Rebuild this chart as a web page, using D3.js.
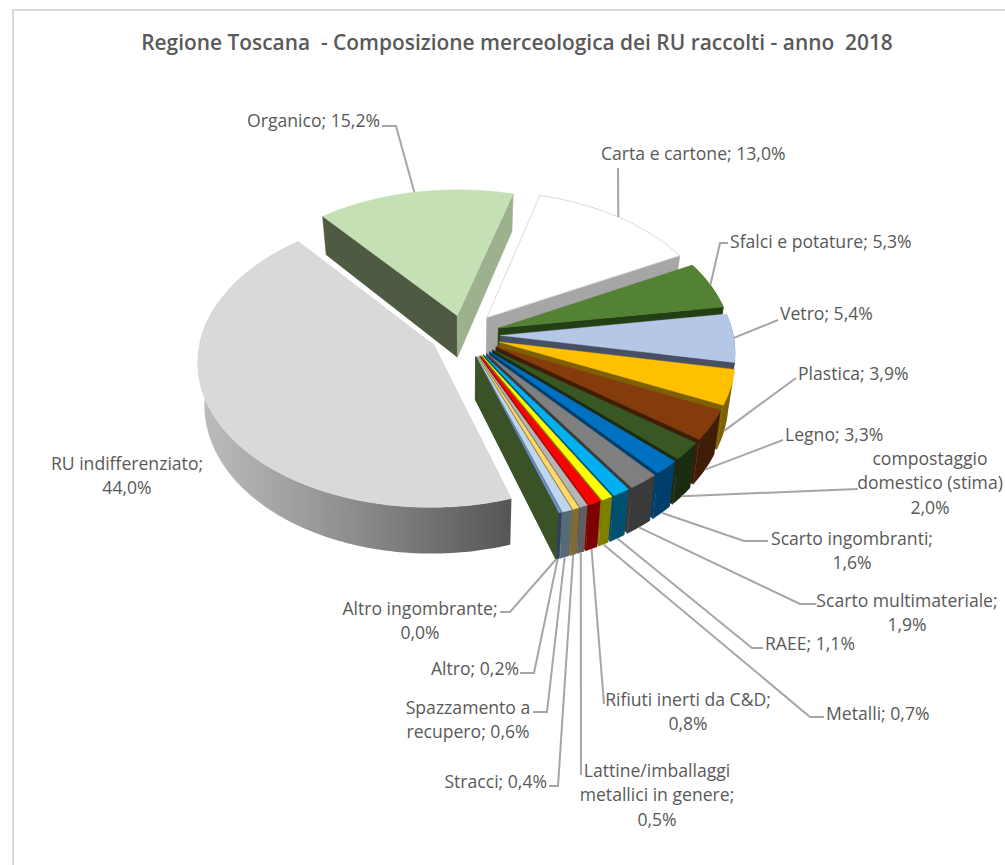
<!DOCTYPE html>
<html><head><meta charset="utf-8">
<style>html,body{margin:0;background:#fff}svg{display:block}</style>
<script src="https://cdn.jsdelivr.net/npm/d3@7"></script></head>
<body><svg id="c" width="1005" height="865"></svg>
<script>
const title = "Regione Toscana  - Composizione merceologica dei RU raccolti - anno  2018";
const categories = ["RU indifferenziato","Organico","Carta e cartone","Sfalci e potature","Vetro","Plastica","Legno","compostaggio domestico (stima)","Scarto ingombranti","Scarto multimateriale","RAEE","Metalli","Rifiuti inerti da C&D","Lattine/imballaggi metallici in genere","Stracci","Spazzamento a recupero","Altro","Altro ingombrante"];
const values = [44.0,15.2,13.0,5.3,5.4,3.9,3.3,2.0,1.6,1.9,1.1,0.7,0.8,0.5,0.4,0.6,0.2,0.0];
const topColors = ["#d9d9d9","#c5e0b4","#ffffff","#548235","#b4c7e7","#ffc000","#843c0c","#385723","#0070c0","#7f7f7f","#00b0f0","#ffff00","#ff0000","#b5b5b5","#ffd966","#bdd7ee","#6f8fc9","#375623"];
const wallColors = ["#8a8a8a","#9db18e","#a6a6a6","#233f14","#474f65","#7f6000","#3f1d06","#1a2b11","#003e6b","#3a3a3a","#00506f","#7f7f00","#7f0000","#5f5f5f","#7f6b33","#566a78","#2f3f63","#3b5226"];
const explode = [.145,.14,.158,.156,.156,.158,.158,.158,.158,.158,.158,.158,.158,.158,.158,.158,.158,.158];

const layout = [
 {lines:["RU indifferenziato;","{v}"],x:127,y:463,a:"middle"},
 {lines:["Organico; {v}"],x:380,y:120,a:"end",pts:[[382,126],[396,126]],z:0},
 {lines:["Carta e cartone; {v}"],x:601,y:153,a:"start",pts:[[618,168]],z:0},
 {lines:["Sfalci e potature; {v}"],x:730,y:241,a:"start",pts:[[728,243],[720,243]],z:0},
 {lines:["Vetro; {v}"],x:780,y:313,a:"start",pts:[[778,320]],z:0},
 {lines:["Plastica; {v}"],x:798,y:373,a:"start",pts:[[796,378]],z:1},
 {lines:["Legno; {v}"],x:785,y:434,a:"start",pts:[[783,440]],z:1},
 {lines:["compostaggio","domestico (stima)","{v}"],x:930,y:458,a:"middle",pts:[[858,489]],z:1},
 {lines:["Scarto ingombranti;","{v}"],x:852,y:538,a:"middle",pts:[[768,541],[744,541]],z:1},
 {lines:["Scarto multimateriale;","{v}"],x:907,y:600,a:"middle",pts:[[816,604],[800,604]],z:1},
 {lines:["RAEE; {v}"],x:765,y:643,a:"start",pts:[[763,648],[752,648]],z:1},
 {lines:["Metalli; {v}"],x:826,y:713,a:"start",pts:[[824,717],[810,717]],z:1},
 {lines:["Rifiuti inerti da C&D;","{v}"],x:688,y:699,a:"middle",pts:[[604,704]],z:1},
 {lines:["Lattine/imballaggi","metallici in genere;","{v}"],x:657,y:770,a:"middle",pts:[[581,775]],z:1},
 {lines:["Stracci; {v}"],x:547,y:781,a:"end",pts:[[549,786],[558,786]],z:1},
 {lines:["Spazzamento a","recupero; {v}"],x:468,y:707,a:"middle",pts:[[533,712],[547,712]],z:1},
 {lines:["Altro; {v}"],x:519,y:668,a:"end",pts:[[520,673],[534,673]],z:1},
 {lines:["Altro ingombrante;","{v}"],x:420,y:608,a:"middle",pts:[[500,612],[510,612]],z:1}
];

const cx=464, cy=335, R=233, K=143, P=.105, DEPTH=42, SHRINK=.025;
const startDeg=162;
const font="'Open Sans', sans-serif";
const fmt=d3.formatLocale({decimal:",",thousands:".",grouping:[3],currency:["","€"]}).format(".1f");
const svg=d3.select("#c");
const defs=svg.append("defs");
const g0=defs.append("linearGradient").attr("id","ruWall").attr("gradientUnits","userSpaceOnUse")
 .attr("x1",200).attr("x2",512).attr("y1",0).attr("y2",0);
g0.append("stop").attr("offset",0).attr("stop-color","#bdbdbd");
g0.append("stop").attr("offset",.5).attr("stop-color","#8c8c8c");
g0.append("stop").attr("offset",1).attr("stop-color","#555555");

// frame
svg.append("rect").attr("x",13).attr("y",10).attr("width",1100).attr("height",900)
 .attr("fill","#fff").attr("stroke","#d9d9d9").attr("stroke-width",2);

const pie=d3.pie().value(d=>d).sort(null)
 .startAngle(startDeg*Math.PI/180).endAngle((startDeg+360)*Math.PI/180);
const arcs=pie(values);

function proj(U,V,z){
  const s=1/(1-P*V);
  let x=cx+R*U*s, y=cy+K*V*s;
  if(z){x=cx+(x-cx)*(1-SHRINK*z); y=y+z*(DEPTH+4*V);}
  return [x,y];
}
function pt(a,r,z,i){
  const m=(arcs[i].startAngle+arcs[i].endAngle)/2, e=explode[i];
  return proj(r*Math.sin(a)+e*Math.sin(m), -r*Math.cos(a)-e*Math.cos(m), z);
}
function arcPts(i,z){
  const a0=arcs[i].startAngle,a1=arcs[i].endAngle,n=Math.max(2,Math.ceil((a1-a0)/.02));
  return d3.range(n+1).map(k=>pt(a0+(a1-a0)*k/n,1,z,i));
}
const line=d3.line();
const poly=p=>line(p)+"Z";
const G=svg.append("g");
const draw=(d,f,st,w)=>G.append("path").attr("d",d).attr("fill",f).attr("stroke",st||f).attr("stroke-width",w==null?.6:w).attr("stroke-linejoin","round");

arcs.forEach((arc,i)=>{
  const a0=arc.startAngle,a1=arc.endAngle;
  const side=a=>[pt(a,0,0,i),pt(a,1,0,i),pt(a,1,1,i),pt(a,0,1,i)];
  const c=wallColors[i];
  const top=arcPts(i,0), bot=arcPts(i,1).reverse();
  if(i===0) draw(poly(top.concat(bot)),"url(#ruWall)","none",0);
  else if(i>2) draw(poly(top.concat(bot)),c,"none",0);
  if(i===1){ draw(poly(side(a0)),"#4f5a43"); draw(poly(side(a1)),c); }
  else if(i!==0){ draw(poly(side(a1)),c); }
  const fan=[pt(a0,0,0,i)].concat(top);
  draw(poly(fan),topColors[i], i===2?"#d9d9d9":topColors[i], i===2?1:.4);
});

const labels=svg.append("g").attr("font-family",font).attr("font-size",17.6).attr("fill","#595959");
layout.forEach((l,i)=>{
  const m=(arcs[i].startAngle+arcs[i].endAngle)/2;
  if(l.pts){
    const end=pt(m,1,l.z,i);
    labels.append("path").attr("d",line(l.pts.concat([end]))).attr("fill","none").attr("stroke","#a6a6a6").attr("stroke-width",2);
  }
  const t=labels.append("text").attr("text-anchor",l.a);
  const v=fmt(values[i])+"%";
  l.lines.forEach((s,k)=>t.append("tspan").attr("x",l.x).attr("y",l.y+6.5+k*24.6).text(s.replace("{v}",v)));
});
svg.append("text").attr("x",517).attr("y",50).attr("text-anchor","middle").attr("xml:space","preserve")
 .attr("font-family",font).attr("font-weight",600).attr("font-size",20.9).attr("fill","#595959").text(title);
</script></body></html>
